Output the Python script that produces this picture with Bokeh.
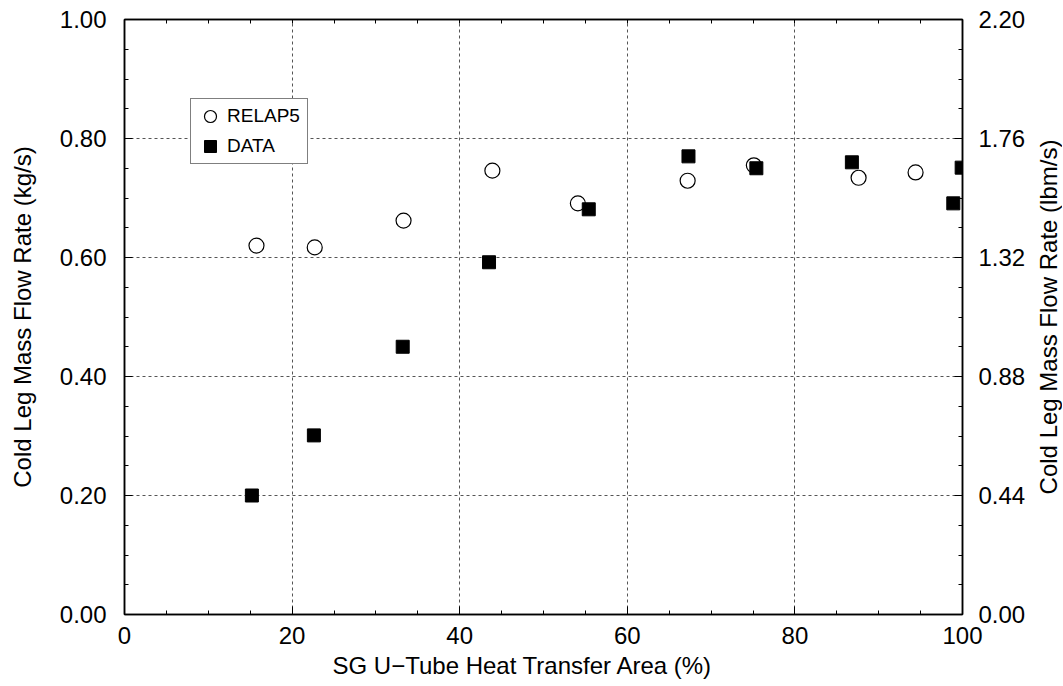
from bokeh.plotting import figure
from bokeh.layouts import row
from bokeh.models import (Range1d, LinearAxis, FixedTicker, PrintfTickFormatter, Legend,
                          LegendItem, Title)
from bokeh.embed import file_html
from bokeh.resources import INLINE

# SG U-tube heat transfer area (%) and cold leg mass flow rate (kg/s)
relap_x = [15.75, 22.7, 33.3, 43.9, 54.1, 67.2, 75.1, 87.6, 94.4]
relap_y = [0.620, 0.617, 0.662, 0.746, 0.691, 0.729, 0.755, 0.734, 0.743]
data_x = [15.2, 22.6, 33.2, 43.5, 55.4, 67.3, 75.4, 86.8, 98.9, 99.9]
data_y = [0.200, 0.301, 0.450, 0.592, 0.681, 0.770, 0.750, 0.760, 0.691, 0.751]

x_ticks = [0, 20, 40, 60, 80, 100]
x_minor = [v for v in range(0, 101, 5)]
y_ticks = [0.0, 0.2, 0.4, 0.6, 0.8, 1.0]
y_minor = [i * 0.05 for i in range(21)]
y2_ticks = [0.0, 0.44, 0.88, 1.32, 1.76, 2.20]
y2_minor = [i * 0.11 for i in range(21)]

x_title = "SG U\u2212Tube Heat Transfer Area (%)"
y_title = "Cold Leg Mass Flow Rate (kg/s)"
y2_title = "Cold Leg Mass Flow Rate (lbm/s)"

FONT = "Liberation Sans"
H = 685
TOP, BOTTOM = 19, 71

p = figure(width=1032, height=H, output_backend="svg", toolbar_location=None,
           x_range=Range1d(0, 100), y_range=Range1d(0, 1),
           min_border_left=124, min_border_right=70, min_border_top=TOP, min_border_bottom=BOTTOM)
p.extra_y_ranges = {"lbm": Range1d(0, 2.2)}
p.outline_line_color = "black"
p.outline_line_width = 1.5
p.background_fill_color = "white"

def style(ax):
    ax.major_tick_in = 8
    ax.major_tick_out = 0
    ax.minor_tick_in = 4
    ax.minor_tick_out = 0
    ax.axis_line_width = 1.5
    ax.axis_line_color = "black"
    ax.major_tick_line_color = "black"
    ax.minor_tick_line_color = "black"
    ax.major_tick_line_width = 1
    ax.minor_tick_line_width = 1
    ax.major_label_text_font = FONT
    ax.major_label_text_font_size = "24px"
    ax.major_label_text_color = "black"
    ax.axis_label_text_font = FONT
    ax.axis_label_text_font_size = "24px"
    ax.axis_label_text_font_style = "normal"
    ax.axis_label_text_color = "black"

xa = p.xaxis[0]
xa.ticker = FixedTicker(ticks=x_ticks, minor_ticks=x_minor)
style(xa)
xa.major_label_standoff = 12

ya = p.yaxis[0]
ya.ticker = FixedTicker(ticks=y_ticks, minor_ticks=y_minor)
ya.formatter = PrintfTickFormatter(format="%.2f")
ya.axis_label = y_title
style(ya)
ya.major_label_standoff = 18
ya.axis_label_standoff = 21

ra = LinearAxis(y_range_name="lbm", ticker=FixedTicker(ticks=y2_ticks, minor_ticks=y2_minor),
                formatter=PrintfTickFormatter(format="%.2f"))
style(ra)
ra.major_label_standoff = 16
p.add_layout(ra, "right")

# top frame edge with tick marks only (no labels)
ta = LinearAxis(ticker=FixedTicker(ticks=[], minor_ticks=x_minor))
style(ta)
ta.major_label_standoff = 0
p.add_layout(ta, "above")

# x-axis title, slightly left of the frame centre as in the reference
p.add_layout(Title(text=x_title, align="left", offset=208, standoff=7,
                   text_font=FONT, text_font_size="24px", text_font_style="normal",
                   text_color="black"), "below")

for g in (p.xgrid[0], p.ygrid[0]):
    g.grid_line_color = "#555555"
    g.grid_line_dash = "3 3"
    g.grid_line_width = 1
p.xgrid[0].ticker = FixedTicker(ticks=x_ticks[1:-1])
p.ygrid[0].ticker = FixedTicker(ticks=y_ticks[1:-1])

r1 = p.scatter(relap_x, relap_y, marker="circle", size=15, fill_color="white",
               line_color="black", line_width=1.2)
r2 = p.scatter(data_x, data_y, marker="square", size=13, fill_color="black",
               line_color="black", line_width=1)

legend = Legend(items=[LegendItem(label="RELAP5", renderers=[r1]),
                       LegendItem(label="DATA", renderers=[r2])],
                location=(66, 450), orientation="vertical", padding=2, spacing=0,
                glyph_width=34, glyph_height=30, label_standoff=0, label_width=78,
                label_height=30, label_text_font=FONT, label_text_font_size="19px",
                label_text_color="black",
                border_line_color="black", border_line_width=1, background_fill_color="white",
                background_fill_alpha=1, margin=0)
p.add_layout(legend)

# narrow companion strip carrying the right-hand title (reads bottom to top)
side = figure(width=30, height=H, output_backend="svg", toolbar_location=None,
              x_range=Range1d(0, 1), y_range=Range1d(0, 1),
              min_border_left=0, min_border_right=0, min_border_top=TOP, min_border_bottom=BOTTOM)
side.axis.visible = False
side.grid.visible = False
side.outline_line_color = None
side.add_layout(Title(text=y2_title, align="center", standoff=0,
                      text_font=FONT, text_font_size="24px", text_font_style="normal",
                      text_color="black"), "left")

layout = row(p, side, spacing=0)
open("out.html", "w").write(file_html(layout, INLINE))
